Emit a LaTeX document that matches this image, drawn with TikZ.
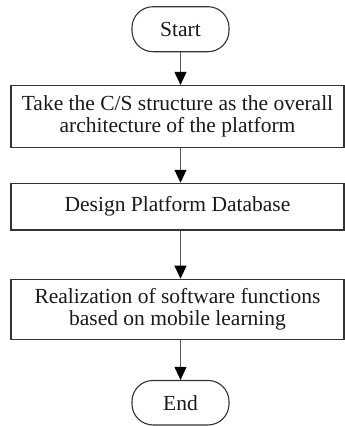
\documentclass[tikz,border=0pt]{standalone}
\usepackage{fontspec}
\setmainfont{Liberation Serif}
\usetikzlibrary{arrows.meta}
\definecolor{edge}{HTML}{333333}
\definecolor{conn}{HTML}{555555}
\definecolor{txt}{HTML}{1A1A1A}
\begin{document}
\begin{tikzpicture}[x=1pt,y=-1pt,
  every node/.style={font=\fontsize{21.5}{22.5}\selectfont, text=txt, inner sep=0pt, align=center},
  term/.style={draw=edge, line width=1.1pt, rounded corners=21pt, minimum width=97pt, minimum height=45pt},
  proc/.style={draw=edge, line width=1.2pt, minimum width=333pt},
  conn/.style={draw=conn, line width=1pt, -{Triangle[length=13pt,width=12pt,fill=black,color=black]}}
]
\useasboundingbox (0,0) rectangle (345,426);
\node[term] (start) at (180.5,29.2) {Start};
\node[proc, minimum height=61.8pt] (b1) at (177.5,116.4) {Take the C/S structure as the overall\\architecture of the platform};
\node[proc, minimum height=46.7pt] (b2) at (177.5,206.7) {Design Platform Database};
\node[proc, minimum height=60.2pt] (b3) at (177.5,309.4) {Realization of software functions\\based on mobile learning};
\node[term, minimum height=44.5pt] (end) at (180.5,402.7) {End};
\draw[conn] (start.south) -- (start.south |- b1.north);
\draw[conn] (start.south |- b1.south) -- (start.south |- b2.north);
\draw[conn] (start.south |- b2.south) -- (start.south |- b3.north);
\draw[conn] (start.south |- b3.south) -- (end.north);
\end{tikzpicture}
\end{document}
